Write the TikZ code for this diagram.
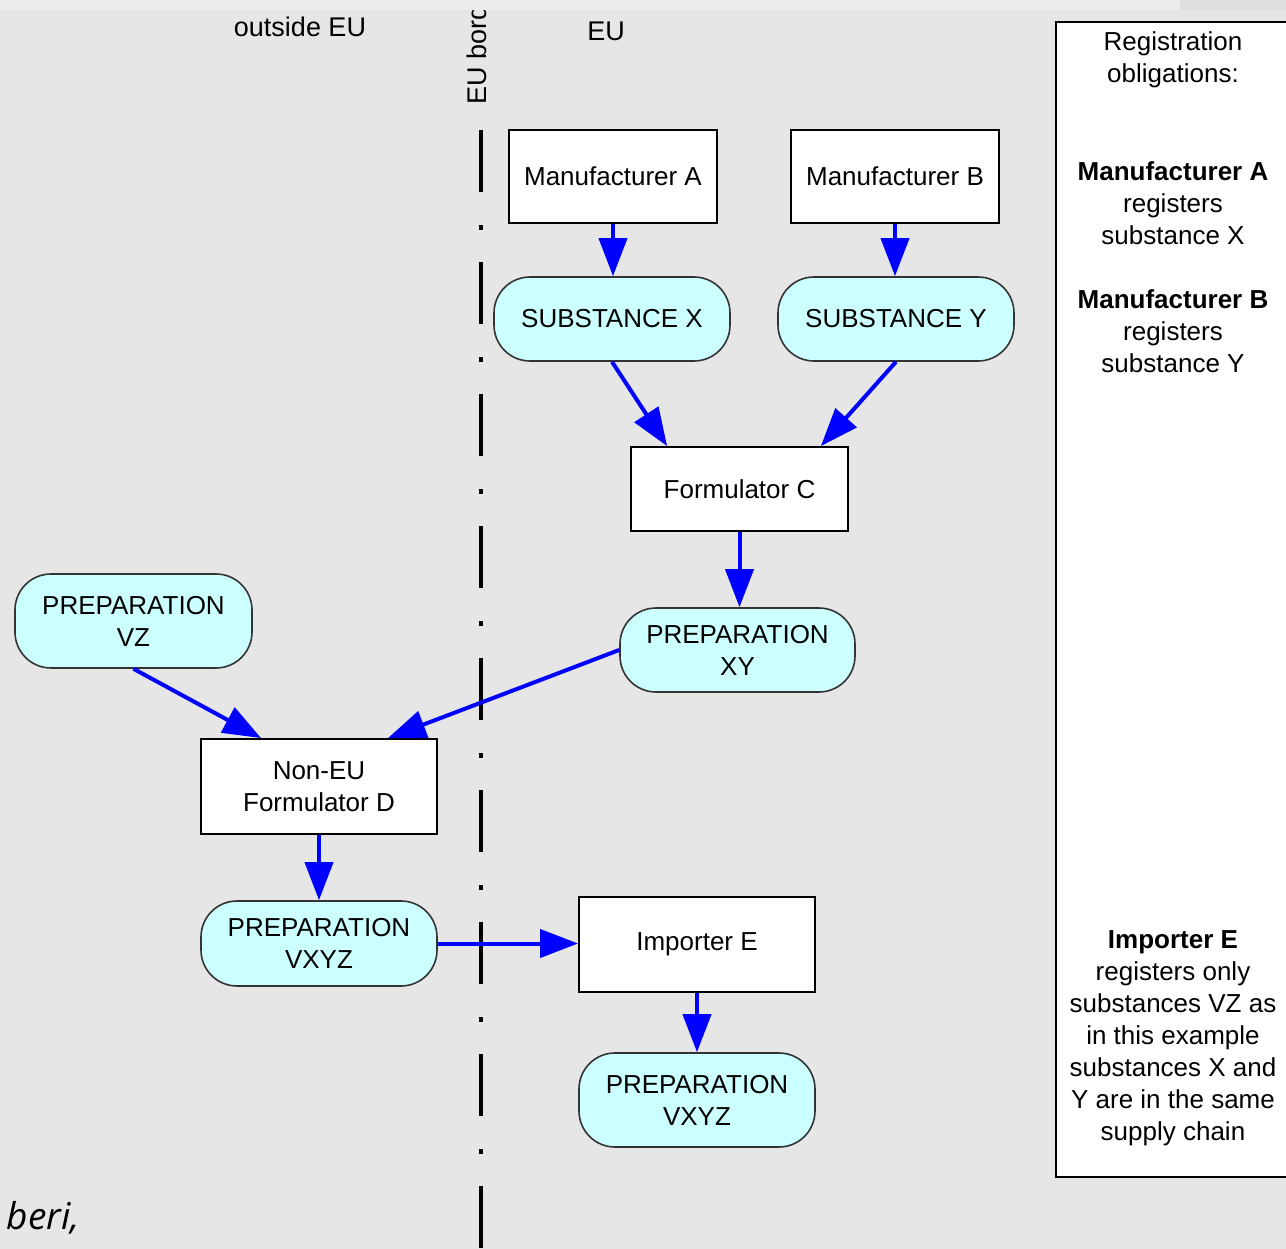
\documentclass[tikz,border=0pt]{standalone}
\usepackage{fontspec}
\setmainfont{Liberation Sans}
\newfontfamily\italfont{Open Sans}
\usetikzlibrary{arrows.meta}
\definecolor{bg}{HTML}{E6E6E6}
\definecolor{topband}{HTML}{EBEBEB}
\definecolor{topbanddark}{HTML}{DEDEDE}
\definecolor{cyanfill}{HTML}{CCFFFF}
\definecolor{arrowblue}{HTML}{0000FF}
\begin{document}
\begin{tikzpicture}[x=1pt,y=-1pt,
  txt/.style={font=\fontsize{26}{32}\selectfont, align=center, inner sep=0pt, text=black},
  box/.style={txt, draw=black, line width=1.8pt, fill=white, minimum width=208pt, minimum height=93pt},
  pill/.style={txt, draw=black!80, line width=1.6pt, fill=cyanfill, rounded corners=36pt, minimum width=236pt, minimum height=84pt},
  flow/.style={draw=arrowblue, line width=4pt, -{Triangle[length=38pt,width=28pt]}},
  border/.style={draw=black, line width=3.5pt, dash pattern=on 62pt off 33pt on 5pt off 32pt}
]
\useasboundingbox (0,0) rectangle (1286,1249);
\fill[bg] (0,0) rectangle (1286,1249);

% EU border line
\draw[border] (481,130) -- (481,1262);

% headings
\node[txt, font=\fontsize{27}{32}\selectfont] (outside) at (300,27) {outside EU};
\node[txt, font=\fontsize{27}{32}\selectfont] (eu) at (606,31) {EU};
\node[txt, font=\fontsize{27}{32}\selectfont, rotate=90, anchor=west] (eub) at (477,105) {EU border};

% top band (covers the border label, as in the source)
\fill[topband] (0,0) rectangle (1180,10);
\fill[topbanddark] (1180,0) rectangle (1286,10);

% right panel
\draw[line width=1.8pt, fill=white] (1056,22) rectangle (1300,1177);
\node[txt] (reg) at (1173,60) {Registration\\obligations:};
\node[txt] (ra) at (1173,203) {\textbf{Manufacturer A}\\registers\\substance X};
\node[txt] (rb) at (1173,331) {\textbf{Manufacturer B}\\registers\\substance Y};
\node[txt] (re) at (1173,1038) {\textbf{Importer E}\\registers only\\substances VZ as\\in this example\\substances X and\\Y are in the same\\supply chain};

% nodes
\node[box] (ma) at (613,176.5) {Manufacturer A};
\node[box] (mb) at (895,176.5) {Manufacturer B};
\node[pill] (sx) at (612,319) {SUBSTANCE X};
\node[pill] (sy) at (896,319) {SUBSTANCE Y};
\node[box, minimum width=217pt, minimum height=84pt] (fc) at (739.5,489) {Formulator C};
\node[pill, minimum width=235pt] (pxy) at (737.5,650) {PREPARATION\\XY};
\node[pill, minimum width=237pt, minimum height=94pt] (pvz) at (133.5,621) {PREPARATION\\VZ};
\node[box, minimum width=236pt, minimum height=95pt] (fd) at (319,786.5) {Non-EU\\Formulator D};
\node[pill, minimum height=85pt] (pv1) at (319,943.5) {PREPARATION\\VXYZ};
\node[box, minimum width=236pt, minimum height=95pt] (ie) at (697,944.5) {Importer E};
\node[pill, minimum height=94pt] (pv2) at (697,1100) {PREPARATION\\VXYZ};

% connectors
\draw[flow] (ma.south) -- (ma.south |- sx.north);
\draw[flow] (mb.south) -- (mb.south |- sy.north);
\draw[flow] (sx.south) -- ([xshift=37pt]fc.north west);
\draw[flow] (sy.south) -- ([xshift=-28pt]fc.north east);
\draw[flow] (fc.south) -- (fc.south |- pxy.north);
\draw[flow] (pxy.west) -- ([xshift=-50pt]fd.north east);
\draw[flow] (pvz.south) -- ([xshift=61pt]fd.north west);
\draw[flow] (fd.south) -- (fd.south |- pv1.north);
\draw[flow] (pv1.east) -- (pv1.east -| ie.west);
\draw[flow] (ie.south) -- (ie.south |- pv2.north);

% cut-off caption text
\node[inner sep=0pt, anchor=base east, font=\italfont\itshape\fontsize{37}{44}\selectfont] (cap) at (80,1229) {beri,};
\end{tikzpicture}
\end{document}
